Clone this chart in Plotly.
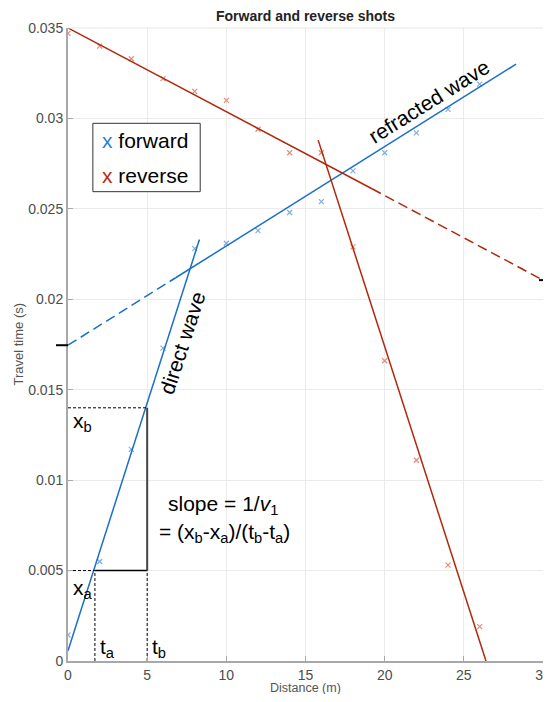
import plotly.graph_objects as go

# ---------------- data ----------------
dist = [0, 2, 4, 6, 8, 10, 12, 14, 16, 18, 20, 22, 24, 26]
t_forward = [0.00144, 0.0055, 0.0117, 0.0173, 0.0228, 0.0231, 0.0238, 0.0248,
             0.0254, 0.0271, 0.0281, 0.0292, 0.0305, 0.0319]
t_reverse = [0.0347, 0.0340, 0.0333, 0.0322, 0.0315, 0.0310, 0.0294, 0.0281,
             0.0281, 0.0229, 0.0166, 0.0111, 0.0053, 0.0019]

# fitted lines (end points)
fwd_direct_x = [0, 8.3]
fwd_direct_t = [0.00057, 0.0233]
fwd_refr_dash_x = [0, 6.8]
fwd_refr_dash_t = [0.01746, 0.02119]
fwd_refr_x = [6.8, 28.3]
fwd_refr_t = [0.02119, 0.0330]
rev_refr_x = [0, 19.2]
rev_refr_t = [0.0350, 0.02611]
rev_refr_dash_x = [19.2, 30]
rev_refr_dash_t = [0.02611, 0.02106]
rev_direct_x = [15.8, 26.4]
rev_direct_t = [0.0288, 0.0]

# slope construction
xa_t, xb_t = 0.005, 0.014
ta_x, tb_x = 1.7, 5.0

x_ticks = [0, 5, 10, 15, 20, 25, 30]
y_ticks = [0, 0.005, 0.01, 0.015, 0.02, 0.025, 0.03, 0.035]
y_ticktext = ["0", "0.005", "0.01", "0.015", "0.02", "0.025", "0.03", "0.035"]

BLUE = "#1c6fc6"
RED = "#b0280c"
BLUE_M = "#7eaee3"
RED_M = "#e58c7a"
FONT = "Liberation Sans, Arial, sans-serif"

W, H = 535, 686
ML, MR, MT, MB = 60, 0, 20, 33
PW = W - ML - MR

fig = go.Figure()

fig.add_trace(go.Scatter(x=dist, y=t_forward, mode="markers",
                         marker=dict(symbol="x-thin", size=5, line=dict(width=1.2, color=BLUE_M))))
fig.add_trace(go.Scatter(x=dist, y=t_reverse, mode="markers",
                         marker=dict(symbol="x-thin", size=5, line=dict(width=1.2, color=RED_M))))

def line(x, y, color, width=1.5, dash="solid"):
    fig.add_trace(go.Scatter(x=x, y=y, mode="lines",
                             line=dict(color=color, width=width, dash=dash)))

line(fwd_direct_x, fwd_direct_t, BLUE)
line(fwd_refr_dash_x, fwd_refr_dash_t, BLUE, dash="10px,5px")
line(fwd_refr_x, fwd_refr_t, BLUE)
line(rev_refr_x, rev_refr_t, RED)
line(rev_refr_dash_x, rev_refr_dash_t, RED, dash="10px,5px")
line(rev_direct_x, rev_direct_t, RED)

# slope construction lines
line([0, tb_x], [xb_t, xb_t], "black", 1, "3px,2px")
line([0, ta_x], [xa_t, xa_t], "black", 1, "3px,2px")
line([ta_x, tb_x], [xa_t, xa_t], "black", 1.5)
line([tb_x, tb_x], [xa_t, xb_t], "#444444", 2)
line([ta_x, ta_x], [0, xa_t], "black", 1, "3px,2px")
line([tb_x, tb_x], [0, xa_t], "black", 1, "3px,2px")

x_max, y_max = x_ticks[-1], y_ticks[-1]

shapes = [
    # top border
    dict(type="line", xref="x domain", yref="y domain", x0=0, x1=1, y0=1, y1=1,
         line=dict(color="#e6e6e6", width=1)),
    # intercept marks outside the axes
    dict(type="line", xref="x domain", yref="y domain", x0=-12 / PW, x1=0,
         y0=fwd_refr_dash_t[0] / y_max, y1=fwd_refr_dash_t[0] / y_max,
         line=dict(color="black", width=2)),
    dict(type="line", xref="x domain", yref="y domain", x0=1 - 4 / PW, x1=1 + 8 / PW,
         y0=rev_refr_dash_t[1] / y_max, y1=rev_refr_dash_t[1] / y_max,
         line=dict(color="black", width=2)),
    # legend box
    dict(type="rect", xref="x", yref="y", x0=1.57, x1=8.35, y0=0.02595, y1=0.02973,
         line=dict(color="#333333", width=1), fillcolor="white", layer="above"),
]

ann_font = dict(family=FONT, size=21, color="black")
annotations = [
    dict(x=2.0, y=0.02879, xref="x", yref="y", xanchor="left", yanchor="middle",
         text="<span style='color:#2c7fd4'>x</span> forward", showarrow=False, font=ann_font),
    dict(x=2.0, y=0.02685, xref="x", yref="y", xanchor="left", yanchor="middle",
         text="<span style='color:#b52b12'>x</span> reverse", showarrow=False, font=ann_font),
    dict(x=22.77, y=0.03095, xref="x", yref="y", text="refracted wave", textangle=-32,
         showarrow=False, font=ann_font),
    dict(x=7.23, y=0.01761, xref="x", yref="y", text="direct wave", textangle=-72,
         showarrow=False, font=ann_font),
    dict(x=9.8, y=0.00864, xref="x", yref="y", text="slope = 1/<i>v</i><sub>1</sub>",
         showarrow=False, font=ann_font),
    dict(x=5.6, y=0.00710, xref="x", yref="y", xanchor="left",
         text="= (x<sub>b</sub>-x<sub>a</sub>)/(t<sub>b</sub>-t<sub>a</sub>)",
         showarrow=False, font=ann_font),
    dict(x=0.2, y=0.01323, xref="x", yref="y", xanchor="left", text="x<sub>b</sub>",
         showarrow=False, font=ann_font),
    dict(x=0.2, y=0.00399, xref="x", yref="y", xanchor="left", text="x<sub>a</sub>",
         showarrow=False, font=ann_font),
    dict(x=1.9, y=0.0007, xref="x", yref="y", xanchor="left", text="t<sub>a</sub>",
         showarrow=False, font=ann_font),
    dict(x=5.2, y=0.0007, xref="x", yref="y", xanchor="left", text="t<sub>b</sub>",
         showarrow=False, font=ann_font),
    # axis titles
    dict(x=0.5, y=0, xref="paper", yref="paper", yshift=-27, text="Distance (m)",
         showarrow=False, yanchor="middle", font=dict(family=FONT, size=12.5, color="#555555")),
    dict(x=0, y=0.5, xref="paper", yref="paper", xshift=-50, text="Travel time (s)",
         textangle=-90, showarrow=False, xanchor="center",
         font=dict(family=FONT, size=13, color="#555555")),
]

fig.update_layout(
    width=W, height=H,
    margin=dict(l=ML, r=MR, t=MT, b=MB),
    paper_bgcolor="white", plot_bgcolor="white",
    showlegend=False,
    font=dict(family=FONT),
    title=dict(text="<b>Forward and reverse shots</b>", x=0.5, xref="paper",
               y=1 - 8 / H, yref="container", yanchor="middle", xanchor="center",
               font=dict(family=FONT, size=14, color="#222222")),
    shapes=shapes,
    annotations=annotations,
)
fig.update_xaxes(range=[0, x_max], tickvals=x_ticks, showgrid=True, gridcolor="#ebebeb",
                 gridwidth=1, zeroline=False, showline=True, linecolor="#a8a8a8", linewidth=2,
                 ticks="inside", ticklen=5, tickcolor="#a8a8a8", automargin=False,
                 ticklabeloverflow="allow",
                 tickfont=dict(family=FONT, size=14, color="#4d4d4d"))
fig.update_yaxes(range=[0, y_max], tickvals=y_ticks, ticktext=y_ticktext, showgrid=True,
                 gridcolor="#ebebeb", gridwidth=1, zeroline=False, showline=True, mirror=True,
                 linecolor="#a8a8a8", linewidth=2, ticks="inside", ticklen=5, tickcolor="#a8a8a8",
                 automargin=False, ticklabeloverflow="allow",
                 tickfont=dict(family=FONT, size=14, color="#4d4d4d"))

fig.write_html("out.html")
